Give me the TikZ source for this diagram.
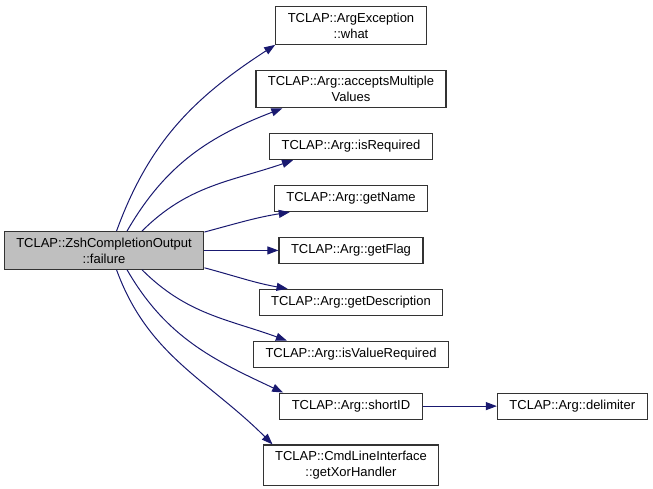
\documentclass[tikz,border=0pt]{standalone}
\usepackage{fontspec}
\setmainfont{Liberation Sans}
\usepackage{xcolor}
\usepackage{tikz}
\usetikzlibrary{arrows.meta,positioning}
\definecolor{callblue}{HTML}{191970}
\definecolor{boxgray}{HTML}{BFBFBF}
\definecolor{boxline}{HTML}{333333}

\begin{document}
\begin{tikzpicture}[x=1pt,y=1pt,node distance=24.7pt and 74pt,>={Triangle[length=11pt,width=8pt]},font=\fontsize{13}{16}\selectfont]

\tikzset{
f/.style={
    draw=boxline,
    fill=white,
    line width=1.2pt,
    inner xsep=12pt,
    inner ysep=6pt,
    minimum height=26pt,
    align=center
},
cur/.style={
    f,
    fill=boxgray
},
a/.style={->,line width=1pt,color=callblue}
}

\useasboundingbox (0,0) rectangle (653,-488);

\node[f] (what) at (351,-25.5) {TCLAP::ArgException\\::what};
\node[f,below=of what] (accepts) {TCLAP::Arg::acceptsMultiple\\Values};
\node[f,below=of accepts] (isRequired) {TCLAP::Arg::isRequired};
\node[f,below=of isRequired] (getName) {TCLAP::Arg::getName};
\node[f,below=of getName] (getFlag) {TCLAP::Arg::getFlag};
\node[f,below=of getFlag] (getDescription) {TCLAP::Arg::getDescription};
\node[f,below=of getDescription] (isValueRequired) {TCLAP::Arg::isValueRequired};
\node[f,below=of isValueRequired] (shortID) {TCLAP::Arg::shortID};
\node[f,below=of shortID] (getXor) {TCLAP::CmdLineInterface\\::getXorHandler};
\node[f,right=of shortID] (delimiter) {TCLAP::Arg::delimiter};

\node[cur,left=of getFlag] (failure) {TCLAP::ZshCompletionOutput\\::failure};

\draw[a] ([xshift=12.5pt]failure.north) to[out=70,in=213] (what.south west);
\draw[a] ([xshift=23pt]failure.north) to[out=60,in=201] ([xshift=27pt]accepts.south west);
\draw[a] ([xshift=38pt]failure.north) to[out=45,in=199] ([xshift=24pt]isRequired.south west);
\draw[a] ([yshift=-1pt]failure.north east) to[out=15,in=189] ([xshift=16pt]getName.south west);
\draw[a] (failure.east) -- (getFlag.west);
\draw[a] ([yshift=2pt]failure.south east) to[out=-15,in=170] ([xshift=29pt]getDescription.north west);
\draw[a] ([xshift=38pt]failure.south) to[out=-45,in=160] ([xshift=34pt]isValueRequired.north west);
\draw[a] ([xshift=23pt]failure.south) to[out=-60,in=155] ([xshift=4pt]shortID.north west);
\draw[a] ([xshift=12.5pt]failure.south) to[out=-70,in=135] ([xshift=10pt]getXor.north west);

\draw[a] (shortID) -- (delimiter);

\end{tikzpicture}
\end{document}
